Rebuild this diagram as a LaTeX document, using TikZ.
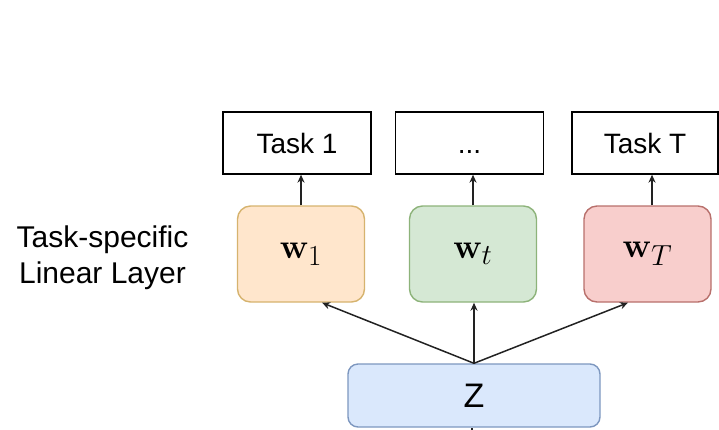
\documentclass[tikz,border=0pt]{standalone}
\usepackage{graphicx}
\usepackage[no-math]{fontspec}
\setmainfont{Liberation Sans}
\usetikzlibrary{arrows.meta}
\definecolor{orfill}{HTML}{FFE6CC}\definecolor{ordraw}{HTML}{D6B36E}
\definecolor{grfill}{HTML}{D5E8D4}\definecolor{grdraw}{HTML}{8DB37A}
\definecolor{rdfill}{HTML}{F8CECC}\definecolor{rddraw}{HTML}{B8706C}
\definecolor{blfill}{HTML}{DAE8FC}\definecolor{bldraw}{HTML}{7D97BF}
\definecolor{linecol}{HTML}{222222}
% large weight symbol: CM math comes in fixed sizes, so scale it up
\newcommand{\wsym}[1]{\scalebox{1.4}{$\mathbf{w}_{#1}$}}
\tikzset{
  taskbox/.style={draw=black, line width=1.3pt, fill=white, minimum width=148pt,
    minimum height=62pt, inner sep=0pt, text height=20pt, text depth=0pt,
    font=\fontsize{28}{32}\selectfont},
  wbox/.style={rounded corners=13pt, line width=1.4pt, minimum width=127pt,
    minimum height=96pt, inner sep=0pt, font=\fontsize{24.88}{30}\selectfont},
  conn/.style={draw=linecol, line width=1.5pt, -{Stealth[length=8pt,width=7pt]}},
  lbl/.style={font=\fontsize{30}{36}\selectfont, inner sep=0pt, anchor=base},
}
\begin{document}
\begin{tikzpicture}[x=1pt,y=-1pt]
\useasboundingbox (0,0) rectangle (719,429);

% output heads
\node[taskbox] (task1) at (297,143) {Task 1};
\node[taskbox] (taskd) at (469.5,143) {...};
\node[taskbox, minimum width=146pt] (taskT) at (645,143) {Task T};

% task-specific linear layers
\node[wbox, draw=ordraw, fill=orfill] (w1) at (301,254) {\wsym{1}};
\node[wbox, draw=grdraw, fill=grfill] (wt) at (473,254) {\wsym{t}};
\node[wbox, draw=rddraw, fill=rdfill] (wT) at (647.5,254) {\wsym{T}};

% shared representation
\node[draw=bldraw, fill=blfill, rounded corners=10pt, line width=1.4pt,
  minimum width=252pt, minimum height=63pt, inner sep=0pt,
  font=\fontsize{34}{38}\selectfont] (Z) at (474,395.5) {Z};
\coordinate (zin) at (472,432);

% side label
\node[lbl] (lblA) at (102.5,247) {Task-specific};
\node[lbl] (lblB) at (102.5,283) {Linear Layer};

% connectors
\draw[conn] (w1.north) -- (w1.north |- task1.south);
\draw[conn] (wt.north) -- (wt.north |- taskd.south);
\draw[conn] ([xshift=4.5pt]wT.north) -- ([xshift=4.5pt]wT.north |- taskT.south);
\draw[conn] (Z.north) -- ([xshift=21pt]w1.south);
\draw[conn] (Z.north) -- ([xshift=1pt]wt.south);
\draw[conn] (Z.north) -- ([xshift=-19.5pt]wT.south);
\draw[draw=linecol, line width=1.5pt] (zin) -- (zin |- Z.south);
\end{tikzpicture}
\end{document}
